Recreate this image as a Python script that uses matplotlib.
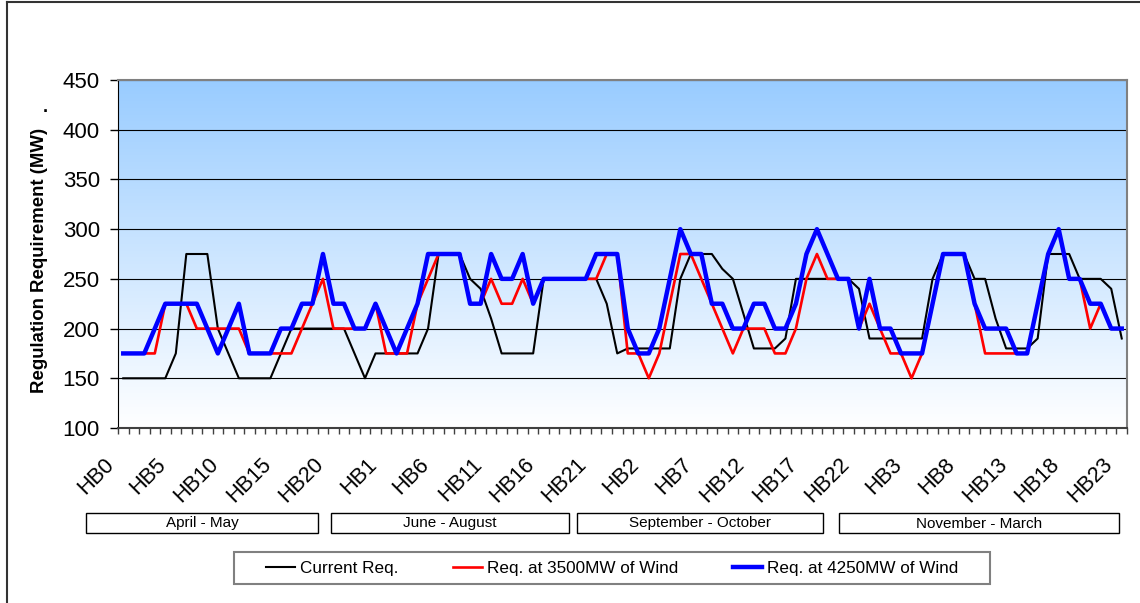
import numpy as np
import matplotlib
matplotlib.use('Agg')
import matplotlib.pyplot as plt
from matplotlib.patches import Rectangle
from matplotlib.lines import Line2D
from matplotlib.colors import LinearSegmentedColormap
from matplotlib.transforms import ScaledTranslation

plt.rcParams['font.family'] = ['Liberation Sans', 'DejaVu Sans']

# hourly requirement (MW), 4 seasons x 24 hours
current_req = [150, 150, 150, 150, 150, 175, 275, 275, 275, 200, 175, 150, 150, 150, 150, 175, 200, 200, 200, 200, 200, 200, 175, 150,
               175, 175, 175, 175, 175, 200, 275, 275, 275, 250, 240, 210, 175, 175, 175, 175, 250, 250, 250, 250, 250, 250, 225, 175,
               180, 180, 180, 180, 180, 250, 275, 275, 275, 260, 250, 215, 180, 180, 180, 190, 250, 250, 250, 250, 250, 250, 240, 190,
               190, 190, 190, 190, 190, 250, 275, 275, 275, 250, 250, 210, 180, 180, 180, 190, 275, 275, 275, 250, 250, 250, 240, 190]
req_3500 = [175, 175, 175, 175, 225, 225, 225, 200, 200, 200, 200, 200, 175, 175, 175, 175, 175, 200, 225, 250, 200, 200, 200, 200,
            225, 175, 175, 175, 225, 250, 275, 275, 275, 225, 225, 250, 225, 225, 250, 225, 250, 250, 250, 250, 250, 250, 275, 275,
            175, 175, 150, 175, 225, 275, 275, 250, 225, 200, 175, 200, 200, 200, 175, 175, 200, 250, 275, 250, 250, 250, 200, 225,
            200, 175, 175, 150, 175, 225, 275, 275, 275, 225, 175, 175, 175, 175, 175, 225, 275, 300, 250, 250, 200, 225, 200, 200]
req_4250 = [175, 175, 175, 200, 225, 225, 225, 225, 200, 175, 200, 225, 175, 175, 175, 200, 200, 225, 225, 275, 225, 225, 200, 200,
            225, 200, 175, 200, 225, 275, 275, 275, 275, 225, 225, 275, 250, 250, 275, 225, 250, 250, 250, 250, 250, 275, 275, 275,
            200, 175, 175, 200, 250, 300, 275, 275, 225, 225, 200, 200, 225, 225, 200, 200, 225, 275, 300, 275, 250, 250, 200, 250,
            200, 200, 175, 175, 175, 225, 275, 275, 275, 225, 200, 200, 200, 175, 175, 225, 275, 300, 250, 250, 225, 225, 200, 200]

tick_labels = ['HB0', 'HB5', 'HB10', 'HB15', 'HB20', 'HB1', 'HB6', 'HB11', 'HB16', 'HB21',
               'HB2', 'HB7', 'HB12', 'HB17', 'HB22', 'HB3', 'HB8', 'HB13', 'HB18', 'HB23']
seasons = ['April - May', 'June - August', 'September - October', 'November - March']
series_names = ['Current Req.', 'Req. at 3500MW of Wind', 'Req. at 4250MW of Wind']

W, H = 1140, 603
fig = plt.figure(figsize=(W / 100, H / 100), dpi=100)
ax = fig.add_axes([118 / W, 1 - 428 / H, (1127 - 118) / W, (428 - 80) / H])

x = np.arange(len(current_req))

# blue-to-white background
cmap = LinearSegmentedColormap.from_list('bg', ['#ffffff', '#99ccff'])
grad = np.linspace(0, 1, 256).reshape(-1, 1)
ax.imshow(grad, extent=[0, 1, 0, 1], transform=ax.transAxes, aspect='auto',
          cmap=cmap, origin='lower', zorder=0)

l1, = ax.plot(x, current_req, color='black', lw=1.5, zorder=3)
l2, = ax.plot(x, req_3500, color='#ff0000', lw=1.9, zorder=4)
l3, = ax.plot(x, req_4250, color='#0000ff', lw=3.2, zorder=5)

ax.set_xlim(-0.5, len(x) - 0.5)
ax.set_ylim(100, 450)
ax.set_yticks(range(100, 451, 50))
ax.yaxis.grid(True, color='black', lw=0.8)
ax.set_axisbelow(True)

# category boundary ticks; rotated labels drawn as text so they can be nudged left
ax.set_xticks(np.arange(-0.5, len(x), 1))
ax.set_xticklabels([])
ax.tick_params(axis='x', length=4.5, color='#404040', width=1)
lab_trans = ax.get_xaxis_transform() + ScaledTranslation(-0.2, -0.26, fig.dpi_scale_trans)
for pos, lab in zip(x[::5], tick_labels):
    ax.text(pos, 0, lab, transform=lab_trans, rotation=45, ha='right', va='top',
            rotation_mode='anchor', fontsize=15.5, clip_on=False)
ax.tick_params(axis='y', length=6, pad=7, labelsize=16, width=1)

ax.spines['left'].set_color('black')
ax.spines['bottom'].set_color('#404040')
ax.spines['bottom'].set_linewidth(1.5)
for s in ['top', 'right']:
    ax.spines[s].set_color('#808080')
    ax.spines[s].set_linewidth(1.5)

fig.text(40 / W, 1 - 260 / H, 'Regulation Requirement (MW)', rotation=90,
         fontweight='bold', fontsize=13.4, ha='center', va='center')
fig.text(45 / W, 1 - 108 / H, '.', fontweight='bold', fontsize=13,
         ha='center', va='center')

# season boxes under the axis
boxes = [(86, 318), (331, 569), (577, 823), (839, 1119)]
for (x0, x1), name in zip(boxes, seasons):
    fig.patches.append(Rectangle((x0 / W, 1 - 533 / H), (x1 - x0) / W, 20 / H,
                                 transform=fig.transFigure, fill=False,
                                 ec='black', lw=1))
    fig.text((x0 + x1) / 2 / W, 1 - 523.5 / H, name, fontsize=11,
             ha='center', va='center')

# legend
fig.patches.append(Rectangle((234 / W, 1 - 584 / H), (990 - 234) / W, 32 / H,
                             transform=fig.transFigure, fill=False,
                             ec='#808080', lw=1.5))
fig.legend([l1, l2, l3], series_names, loc='center', ncol=3,
           bbox_to_anchor=(612 / W, 1 - 568 / H), frameon=False, fontsize=12.3,
           handlelength=1.7, handletextpad=0.3, columnspacing=3.2)

# outer border
fig.add_artist(Line2D([7 / W, 7 / W], [0, 1 - 1.5 / H], transform=fig.transFigure,
                      color='#333333', lw=1.5))
fig.add_artist(Line2D([7 / W, 1], [1 - 1.5 / H, 1 - 1.5 / H], transform=fig.transFigure,
                      color='#333333', lw=1.5))

fig.savefig('out.png', dpi=100)
